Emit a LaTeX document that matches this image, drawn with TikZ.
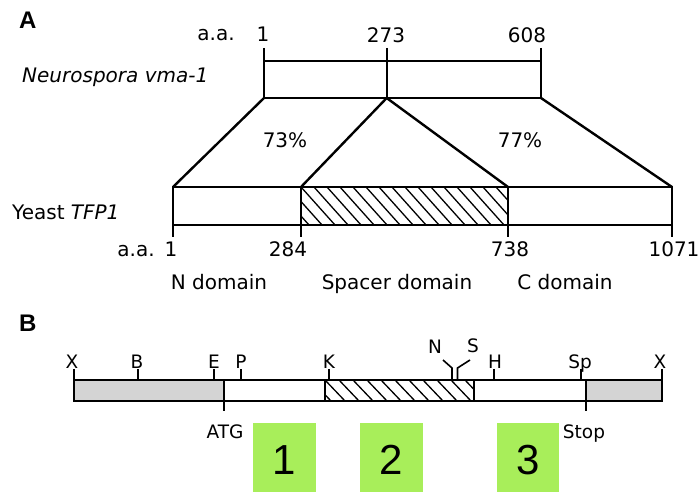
\documentclass[tikz,border=0pt]{standalone}
\usepackage{fontspec}
\setmainfont{DejaVu Sans}
\newfontfamily\arialfont{Liberation Sans}
\definecolor{boxgreen}{RGB}{168,238,90}
\definecolor{stipple}{RGB}{212,212,212}
\begin{document}
\begin{tikzpicture}[x=1pt,y=-1pt,
  barline/.style={line width=2.6pt},
  tickline/.style={line width=1.6pt},
  linkline/.style={line width=2.4pt},
  hatchline/.style={line width=1.3pt},
  lblA/.style={font=\fontsize{20}{22}\selectfont, inner sep=0, anchor=base},
  lblB/.style={font=\fontsize{18.5}{20}\selectfont, inner sep=0, anchor=base},
  panel/.style={font=\arialfont\bfseries\fontsize{24}{26}\selectfont, inner sep=0, anchor=base west},
  numbox/.style={fill=boxgreen, draw=none},
  numlbl/.style={font=\arialfont\fontsize{42}{44}\selectfont, inner sep=0}]
\useasboundingbox (0,0) rectangle (698,492);

%% ---------------- Panel A ----------------
\node[panel] (pA) at (19,29) {A};

% coordinates of top bar (Neurospora)
\coordinate (n1t) at (264,61);  \coordinate (n1b) at (264,98);
\coordinate (n2b) at (386.7,98);
\coordinate (n3t) at (541,61);  \coordinate (n3b) at (541,98);
% coordinates of bottom bar (Yeast)
\coordinate (y1t) at (173,187); \coordinate (y1b) at (173,225);
\coordinate (y2t) at (301,187);
\coordinate (y3t) at (508,187);
\coordinate (y4t) at (672,187); \coordinate (y4b) at (672,225);

% hatched spacer region
\begin{scope}
  \clip (301,187) rectangle (508,225);
  \foreach \i in {-3,...,17} {
    \draw[hatchline] (301+\i*13,187) -- ++(34,38);
  }
\end{scope}

% top bar
\draw[barline] (n1t) rectangle (n3b);
\draw[tickline] (264,48) -- (n1t);
\draw[tickline] (541,48) -- (n3t);
\draw[tickline] (386.7,48) -- (n2b);
% bottom bar
\draw[barline] (y1t) rectangle (y4b);
\draw[tickline] (301,187) -- (301,237);
\draw[tickline] (508,187) -- (508,237);
\draw[tickline] (173,225) -- (173,237);
\draw[tickline] (672,225) -- (672,237);

% links
\draw[linkline] (n1b) -- (y1t);
\draw[linkline] (n2b) -- (y2t);
\draw[linkline] (n2b) -- (y3t);
\draw[linkline] (n3b) -- (y4t);

% labels top
\node[lblA] (aa1) at (216,41) {a.a.};
\node[lblA] (t1) at (263,42) {1};
\node[lblA] (t273) at (386,43) {273};
\node[lblA] (t608) at (527,43) {608};
\node[lblA, anchor=base west] (neuro) at (22,83) {\itshape Neurospora vma-1};
\node[lblA, anchor=base west] (yeast) at (12,219) {Yeast \itshape TFP1};
\node[lblA] (p73) at (285,147) {73\%};
\node[lblA] (p77) at (520,147) {77\%};
% labels bottom
\node[lblA] (aa2) at (136,256) {a.a.};
\node[lblA] (b1) at (171,256) {1};
\node[lblA] (b284) at (288,256) {284};
\node[lblA] (b738) at (510,256) {738};
\node[lblA] (b1071) at (674,256) {1071};
\node[lblA] (dN) at (219,289) {N domain};
\node[lblA] (dS) at (397,289) {Spacer domain};
\node[lblA] (dC) at (565,289) {C domain};

%% ---------------- Panel B ----------------
\node[panel] (pB) at (19,331) {B};

\fill[stipple] (74,380) rectangle (224,401);
\fill[stipple] (586,380) rectangle (662,401);
\begin{scope}
  \clip (325,380) rectangle (474,401);
  \foreach \i in {-2,...,12} {
    \draw[hatchline] (325+\i*14,380) -- ++(20,21);
  }
\end{scope}
\draw[barline] (74,380) rectangle (662,401);
\draw[tickline] (224,380) -- (224,411);
\draw[tickline] (325,380) -- (325,401);
\draw[tickline] (474,380) -- (474,401);
\draw[tickline] (586,380) -- (586,411);

% restriction-site ticks
\foreach \x in {74,138,214,241,329,494,581,662} {
  \draw[tickline] (\x,369) -- (\x,380);
}
% N / S fork
\draw[tickline] (443,360) -- (452,368) -- (452,380);
\draw[tickline] (470,360) -- (457.5,368) -- (457.5,380);

\node[lblB] (sX1) at (72,368) {X};
\node[lblB] (sB) at (137,368) {B};
\node[lblB] (sE) at (214,368) {E};
\node[lblB] (sP) at (241,368) {P};
\node[lblB] (sK) at (329,368) {K};
\node[lblB] (sN) at (435,353) {N};
\node[lblB] (sS) at (473,352) {S};
\node[lblB] (sH) at (495,368) {H};
\node[lblB] (sSp) at (580,368) {Sp};
\node[lblB] (sX2) at (660,368) {X};
\node[lblB] (atg) at (225,438) {ATG};
\node[lblB] (stop) at (584,438) {Stop};

% green numbered boxes
\fill[numbox] (253,423) rectangle (316,492);
\fill[numbox] (360,423) rectangle (423,492);
\fill[numbox] (497,423) rectangle (559,492);
\node[numlbl] (n1) at (284.5,460) {1};
\node[numlbl] (n2) at (391.5,460) {2};
\node[numlbl] (n3) at (528,460) {3};
\end{tikzpicture}
\end{document}
